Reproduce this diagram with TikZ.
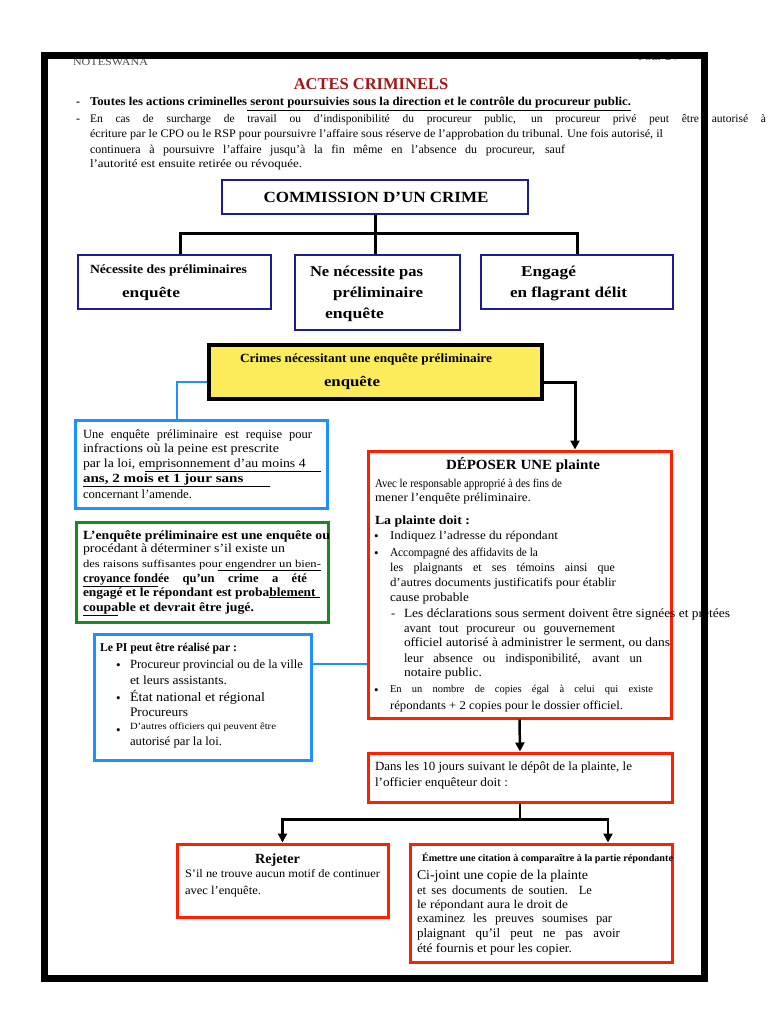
\documentclass[tikz,border=0pt]{standalone}
\usepackage{fontspec}
\setmainfont{Liberation Serif}
\usepackage{graphicx}
\usetikzlibrary{arrows.meta,fit}
\definecolor{navy}{HTML}{1C1C96}
\definecolor{lblue}{HTML}{1E90FF}
\definecolor{gboxc}{HTML}{1A8A1A}
\definecolor{rboxc}{HTML}{FF2000}
\definecolor{ylw}{HTML}{FCEC5C}
\definecolor{ttlred}{HTML}{A51515}
\newcommand\fs[1]{\fontsize{#1}{#1}\selectfont}
\newcommand\fit[2]{\resizebox{#1pt}{\height}{#2}}
\newcommand\just[2]{\makebox[#1pt][s]{#2}}
\newcommand\T[4]{\node[tl] (#1) at (#2,#3+4) {#4};}
\tikzset{
  tl/.style={anchor=base west, inner sep=0pt, outer sep=0pt},
  boxn/.style={draw=navy, line width=2.5pt, inner sep=0pt},
  boxb/.style={draw=lblue, line width=3pt, inner sep=0pt},
  boxg/.style={draw=gboxc, line width=3pt, inner sep=0pt},
  boxr/.style={draw=rboxc, line width=3pt, inner sep=0pt},
  boxy/.style={draw=black, fill=ylw, line width=3.5pt, inner sep=0pt},
  conn/.style={line width=2.5pt, black},
  bconn/.style={line width=2.5pt, lblue},
  arr/.style={-{Triangle[length=9pt,width=9pt]}},
}
\begin{document}
\begin{tikzpicture}[x=1pt,y=-1pt]
\useasboundingbox (0,0) rectangle (768,1024);
% header (partly hidden by frame)
\node[tl, text=gray!60!black] (hdr) at (73,66) {\fit{75}{\fs{10.5}NOTESWANA}};
\node[tl, text=gray!60!black] (pg) at (638,61) {\fit{40}{\fs{10}Pour 2 /}};
\node[draw=black, line width=7pt, inner sep=0pt, fit={(44,56) (704,978.5)}] (frame) {};
% title and intro
\node[font=\fs{16.5}\bfseries, text=ttlred, inner sep=0pt] (title) at (371,84) {ACTES CRIMINELS};
\T{hd1}{76}{102}{\fs{12}\bfseries -}
\T{h1}{90}{102}{\fit{541}{\fs{12}\bfseries Toutes les actions criminelles\underline{\ seront poursuivies sous la direction et le contrôle du procureur public.}}}
\T{hd2}{76}{119}{\fs{12}-}
\T{h2}{90}{119}{\just{676}{\fs{11.5}En cas de surcharge de travail ou d'indisponibilité du procureur public, un procureur privé peut être autorisé à}}
\T{h3}{90}{134}{\fit{573}{\fs{11.5}écriture par le CPO ou le RSP pour poursuivre l'affaire sous réserve de l'approbation du tribunal. Une fois autorisé, il}}
\T{h4}{90}{150}{\just{475}{\fs{12}continuera à poursuivre l'affaire jusqu'à la fin même en l'absence du procureur, sauf}}
\T{h5}{90}{164}{\fit{212}{\fs{11.5}l'autorité est ensuite retirée ou révoquée.}}
% commission
\node[boxn, fit={(222,180) (528,214)}] (comm) {};
\node[inner sep=0pt] (commt) at (376,197) {\fit{225}{\fs{15.5}\bfseries COMMISSION D'UN CRIME}};
\node[boxn, fit={(78,255) (271,309)}] (b1) {};
\node[boxn, fit={(295,255) (460,330)}] (b2) {};
\node[boxn, fit={(481,255) (673,309)}] (b3) {};
\T{b1a}{90}{269}{\fit{157}{\fs{12.5}\bfseries Nécessite des préliminaires}}
\T{b1b}{122}{293}{\fit{58}{\fs{14.5}\bfseries enquête}}
\T{b2a}{310}{272}{\fit{113}{\fs{15}\bfseries Ne nécessite pas}}
\T{b2b}{333}{293}{\fit{90}{\fs{15}\bfseries préliminaire}}
\T{b2c}{325}{314}{\fit{59}{\fs{15}\bfseries enquête}}
\T{b3a}{521}{272}{\fit{55}{\fs{15}\bfseries Engagé}}
\T{b3b}{510}{293}{\fit{117}{\fs{15}\bfseries en flagrant délit}}
\draw[conn, line width=3pt] (comm.south) -- ++(0,18) coordinate (j);
\draw[conn, line width=3pt] (j) -| ([xshift=5.5pt]b1.north);
\draw[conn, line width=3pt] (j) -| (b3.north);
\draw[conn, line width=3pt] (j) -- (j |- b2.north);
% yellow
\node[boxy, fit={(209,345) (542,399)}] (yel) {};
\T{y1}{240}{358}{\fit{252}{\fs{12.5}\bfseries Crimes nécessitant une enquête préliminaire}}
\T{y2}{324}{382}{\fit{56}{\fs{14.5}\bfseries enquête}}
% left blue box
\node[boxb, fit={(75,420) (327,508)}] (bb1) {};
\T{l1}{83}{434}{\just{229}{\fs{12.5}Une enquête préliminaire est requise pour}}
\T{l2}{83}{448}{\fit{196}{\fs{12.5}infractions où la peine est prescrite}}
\T{l3}{83}{463}{\fit{238}{\fs{12.5}par la loi, e\underline{mprisonnement d'au moins 4\hspace{14pt}}}}
\T{l4}{83}{478}{\fit{187}{\fs{12.5}\bfseries\underline{ans, 2 mois et 1 jour sans\hspace{22pt}}}}
\T{l5}{83}{494}{\fit{109}{\fs{12.5}concernant l'amende.}}
% green box
\node[boxg, fit={(76,522) (328,622)}] (gb) {};
\T{g1}{83}{535}{\fit{247}{\fs{12.5}\bfseries L'enquête préliminaire est une enquête ou}}
\T{g2}{83}{548}{\fit{202}{\fs{12.5}procédant à déterminer s'il existe un}}
\T{g3}{83}{563}{\fit{238}{\fs{10.5}des raisons suffisantes pou\underline{r engendrer un bien-}}}
\T{g4}{83}{578}{\just{224}{\fs{12.5}\bfseries \underline{croyance fond}ée qu'un crime a été}}
\T{g5}{83}{592}{\fit{237}{\fs{12.5}\bfseries engagé et le répondant est proba\underline{blement\hspace{4pt}}}}
\T{g6}{83}{607}{\fit{171}{\fs{12.5}\bfseries \underline{coupa}ble et devrait être jugé.}}
% PI box
\node[boxb, fit={(94,634) (311,760)}] (pi) {};
\T{p0}{100}{647}{\fit{137}{\fs{12}\bfseries Le PI peut être réalisé par :}}
\T{pb1}{116}{665}{\fs{13}•}
\T{pb2}{116}{698}{\fs{13}•}
\T{pb3}{116}{730}{\fs{13}•}
\T{p1}{130}{664}{\fit{173}{\fs{12.5}Procureur provincial ou de la ville}}
\T{p2}{130}{680}{\fit{97}{\fs{12.5}et leurs assistants.}}
\T{p3}{130}{697}{\fit{135}{\fs{13}État national et régional}}
\T{p4}{130}{712}{\fit{58}{\fs{13}Procureurs}}
\T{p5}{130}{725}{\fit{146}{\fs{9.5}D'autres officiers qui peuvent être}}
\T{p6}{130}{741}{\fit{92}{\fs{12.5}autorisé par la loi.}}
% deposer box
\node[boxr, fit={(368,451) (671,718)}] (dep) {};
\T{d0}{446}{465}{\fit{154}{\fs{14}\bfseries DÉPOSER UNE plainte}}
\T{d1}{375}{483}{\fit{187}{\fs{12}Avec le responsable approprié à des fins de}}
\T{d2}{375}{497}{\fit{156}{\fs{12}mener l'enquête préliminaire.}}
\T{d3}{375}{520}{\fit{95}{\fs{12.5}\bfseries La plainte doit :}}
\T{db1}{374}{536}{\fs{13}•}
\T{db2}{374}{553}{\fs{13}•}
\T{db3}{374}{690}{\fs{13}•}
\T{d4}{390}{535}{\fit{168}{\fs{12}Indiquez l'adresse du répondant}}
\T{d5}{390}{552}{\fit{148}{\fs{12}Accompagné des affidavits de la}}
\T{d6}{390}{567}{\just{225}{\fs{12}les plaignants et ses témoins ainsi que}}
\T{d7}{390}{582}{\fit{226}{\fs{12}d'autres documents justificatifs pour établir}}
\T{d8}{390}{597}{\fit{79}{\fs{12.5}cause probable}}
\T{dd}{391}{613}{\fs{12.5}-}
\T{d9}{404}{613}{\fit{326}{\fs{12.5}Les déclarations sous serment doivent être signées et prêtées}}
\T{d10}{404}{628}{\just{211}{\fs{12.5}avant tout procureur ou gouvernement}}
\T{d11}{404}{642}{\fit{266}{\fs{12.5}officiel autorisé à administrer le serment, ou dans}}
\T{d12}{404}{658}{\just{238}{\fs{12.5}leur absence ou indisponibilité, avant un}}
\T{d13}{404}{672}{\fit{78}{\fs{12.5}notaire public.}}
\T{d14}{390}{688}{\just{263}{\fs{10.5}En un nombre de copies égal à celui qui existe}}
\T{d15}{390}{705}{\fit{233}{\fs{12}répondants + 2 copies pour le dossier officiel.}}
% dans box
\node[boxr, fit={(368,753) (672,802)}] (dans) {};
\T{n1}{375}{766}{\fit{257}{\fs{12.5}Dans les 10 jours suivant le dépôt de la plainte, le}}
\T{n2}{375}{782}{\fit{133}{\fs{12.5}l'officier enquêteur doit :}}
% rejeter
\node[boxr, fit={(177,844) (388,917)}] (rej) {};
\T{r0}{255}{859}{\fit{45}{\fs{14}\bfseries Rejeter}}
\T{r1}{185}{873}{\fit{195}{\fs{11.5}S'il ne trouve aucun motif de continuer}}
\T{r2}{185}{890}{\fit{76}{\fs{12}avec l'enquête.}}
% emettre
\node[boxr, fit={(410,844) (672,962)}] (em) {};
\T{e0}{422}{857}{\fit{251}{\fs{10}\bfseries Émettre une citation à comparaître à la partie répondante}}
\T{e1}{417}{875}{\fit{171}{\fs{13.5}Ci-joint une copie de la plainte}}
\T{e2}{417}{890}{\just{175}{\fs{12.5}et ses documents de soutien. Le}}
\T{e3}{417}{904}{\fit{151}{\fs{12}le répondant aura le droit de}}
\T{e4}{417}{918}{\just{195}{\fs{12.5}examinez les preuves soumises par}}
\T{e5}{417}{933}{\just{203}{\fs{13}plaignant qu'il peut ne pas avoir}}
\T{e6}{417}{948}{\fit{155}{\fs{12.5}été fournis et pour les copier.}}
% connectors
\draw[bconn] ([yshift=-10pt]yel.west) -| ([xshift=-24pt]bb1.north);
\draw[conn, line width=3pt, arr] ([yshift=-10pt]yel.east) -| ([xshift=55.5pt]dep.north);
\path ([yshift=33pt]pi.east) coordinate (pic);
\draw[bconn] (pic) -- (pic -| dep.west);
\draw[conn, arr] (dep.south) -- (dans.north);
\draw[conn] (dans.south) -- ++(0,16) coordinate (k);
\draw[conn, arr] (k) -| (rej.north);
\draw[conn, arr] (k) -| ([xshift=67pt]em.north);
\end{tikzpicture}
\end{document}
